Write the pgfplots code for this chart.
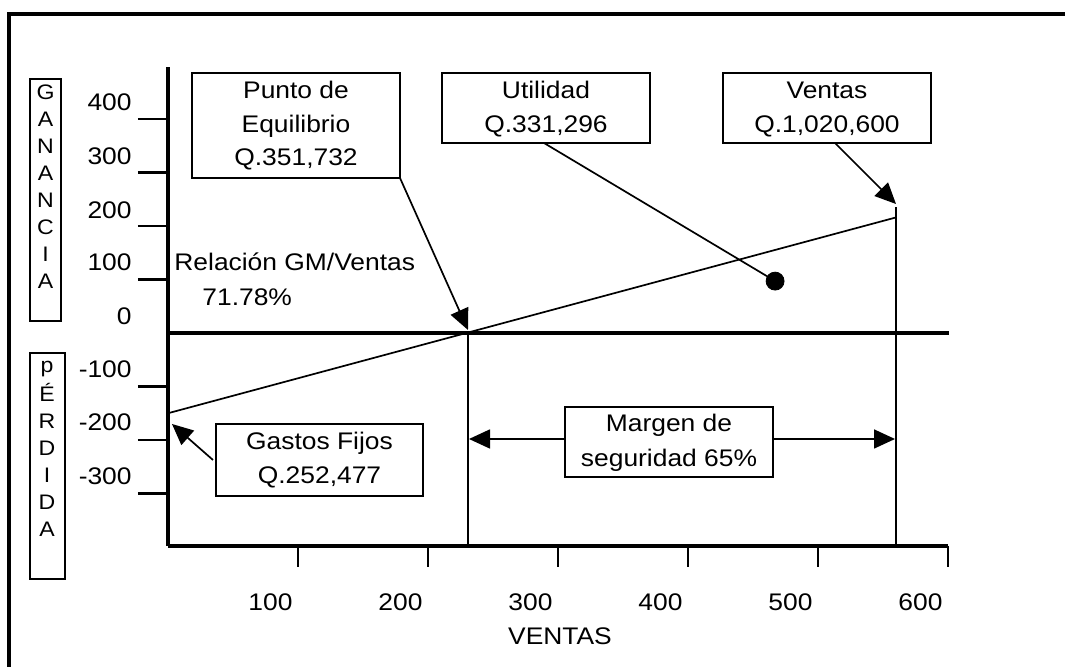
\documentclass[border=0pt]{standalone}
\usepackage{fontspec}
\setmainfont{Liberation Sans}[FakeStretch=1.1]
\usepackage{pgfplots}
\pgfplotsset{compat=1.18}
\usetikzlibrary{arrows.meta}
\begin{document}
\begin{tikzpicture}[>={Triangle[length=10.5pt,width=9.5pt]}]
\begin{axis}[
  x=0.65pt, y=0.2675pt, scale only axis,
  xmin=0, xmax=600, ymin=-398, ymax=497,
  axis x line=bottom, axis y line=left,
  axis line style={-, line width=1.6pt, black},
  every outer x axis line/.append style={-},
  every outer y axis line/.append style={-},
  ytick={-300,-200,-100,100,200,300,400}, yticklabels={},
  xtick=\empty,
  major tick length=15pt, tick align=outside,
  tick style={line width=1.3pt, black},
  clip=false]
\addplot[line width=1.8pt, black] coordinates {(0,0) (601,0)};
\addplot[line width=0.85pt, black] coordinates {(0,-150) (560,216)};
\addplot[line width=0.9pt, black] coordinates {(231,0) (231,-398)};
\addplot[line width=0.9pt, black] coordinates {(560,235) (560,-398)};
\addplot[only marks, mark=*, mark size=4.5pt, black] coordinates {(467,97)};
\coordinate (P0) at (axis cs:-129.2308,622.4299);
\end{axis}
\begin{scope}[shift={(P0)}, x=0.5pt, y=-0.5pt, font=\fontsize{12}{14}\selectfont]
  % outer frame
  \draw[line width=2pt] (9.5,668) -- (9.5,14) -- (1066,14);
  % x ticks
  \foreach \v in {100,200,300,400,500,600}
    \draw[line width=1.4pt] ({168+1.3*\v},546) -- ++(0,21);
  % y tick labels
  \foreach \v/\py in {400/119,300/173,200/227,100/279,0/333,-100/386,-200/439,-300/493}
    \node[anchor=base east, inner sep=0] at (132,{\py-8}) {\v};
  % x tick labels
  \foreach \v in {100,200,300,400,500,600}
    \node[anchor=base, inner sep=0] at ({168+1.3*\v-27.5},611) {\v};
  \node[anchor=base, inner sep=0] at (560,645) {VENTAS};
  % vertical labels
  \draw[line width=1pt] (30,79) rectangle (61,321);
  \foreach \l [count=\i from 0] in {G,A,N,A,N,C,I,A}
    \node[anchor=base, inner sep=0, font=\fontsize{10.5}{12}\selectfont] at (45.5,{100+27*\i}) {\l};
  \draw[line width=1pt] (30,353) rectangle (65,579);
  \node[anchor=base, inner sep=0, font=\fontsize{10.5}{12}\selectfont] at (47,373) {p};
  \foreach \l [count=\i from 1] in {É,R,D,I,D,A}
    \node[anchor=base, inner sep=0, font=\fontsize{10.5}{12}\selectfont] at (47,{375+27*\i}) {\l};
  % Punto de Equilibrio
  \draw[line width=1pt, fill=white] (192,73) rectangle (400,178);
  \node[anchor=base, inner sep=0] at (296,99) {Punto de};
  \node[anchor=base, inner sep=0] at (296,133) {Equilibrio};
  \node[anchor=base, inner sep=0] at (296,166) {Q.351,732};
  \draw[->, line width=0.85pt] (400,178) -- (468,330);
  % Utilidad
  \draw[line width=1pt] (442,73) rectangle (650,143);
  \node[anchor=base, inner sep=0] at (546,99) {Utilidad};
  \node[anchor=base, inner sep=0] at (546,133) {Q.331,296};
  \draw[line width=0.85pt] (544,143) -- (775,281);
  % Ventas
  \draw[line width=1pt] (723,73) rectangle (931,143);
  \node[anchor=base, inner sep=0] at (827,99) {Ventas};
  \node[anchor=base, inner sep=0] at (827,133) {Q.1,020,600};
  \draw[->, line width=0.85pt] (835,143) -- (896,204);
  % Relacion
  \node[anchor=base west, inner sep=0] at (174,271) {Relación GM/Ventas};
  \node[anchor=base west, inner sep=0] at (202,306) {71.78\%};
  % Gastos fijos
  \draw[line width=1pt] (216,424) rectangle (423,496);
  \node[anchor=base, inner sep=0] at (319.5,450) {Gastos Fijos};
  \node[anchor=base, inner sep=0] at (319.5,484) {Q.252,477};
  \draw[->, line width=0.85pt] (213,460) -- (172,424);
  % Margen de seguridad
  \draw[line width=1pt] (565,407) rectangle (773,477);
  \node[anchor=base, inner sep=0] at (669,432) {Margen de};
  \node[anchor=base, inner sep=0] at (669,467) {seguridad 65\%};
  \draw[->, line width=0.85pt] (565,439) -- (469,439);
  \draw[->, line width=0.85pt] (773,439) -- (895,439);
  \pgfresetboundingbox
  \path[use as bounding box] (0,0) rectangle (1065,667);
\end{scope}
\end{tikzpicture}
\end{document}
